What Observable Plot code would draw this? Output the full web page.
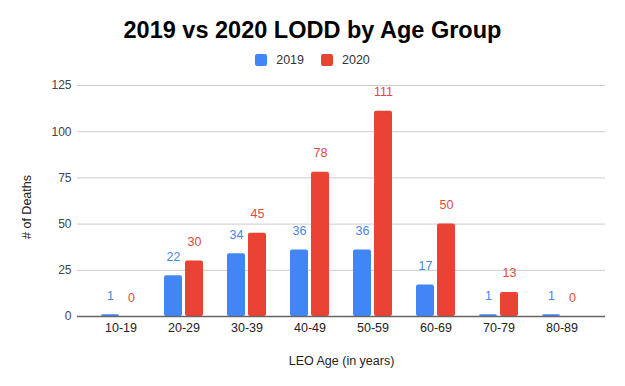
<!DOCTYPE html>
<html>
<head>
<meta charset="utf-8">
<script src="https://cdn.jsdelivr.net/npm/d3@7"></script>
<script src="https://cdn.jsdelivr.net/npm/@observablehq/plot@0.6"></script>
<style>
  html, body { margin: 0; padding: 0; background: #fff; }
  body { width: 625px; height: 386px; overflow: hidden; font-family: "Liberation Sans", Arial, sans-serif; }
  #title { height: 45px; box-sizing: border-box; padding-top: 15px; line-height: 30px; text-align: center; font-size: 23.5px; font-weight: bold; color: #000; }
  #legend { height: 30px; line-height: 30px; display: flex; justify-content: center; align-items: center; font-size: 12.5px; color: #333; }
  .sw { display: inline-block; width: 12px; height: 12px; border-radius: 2px; margin-right: 9px; }
  .item { display: flex; align-items: center; }
  .item + .item { margin-left: 17px; }
</style>
</head>
<body>
<div id="title">2019 vs 2020 LODD by Age Group</div>
<div id="legend"></div>
<div id="chart"></div>
<script>
const ages = ["10-19", "20-29", "30-39", "40-49", "50-59", "60-69", "70-79", "80-89"];
const seriesNames = ["2019", "2020"];
const deaths2019 = [1, 22, 34, 36, 36, 17, 1, 1];
const deaths2020 = [0, 30, 45, 78, 111, 50, 13, 0];
const yTicks = [0, 25, 50, 75, 100, 125];
const colors = ["#4285F4", "#EA4335"];
const labelColors = ["#4a86e8", "#e3483d"];
const xTitle = "LEO Age (in years)";
const yTitle = "# of Deaths";

const legend = document.getElementById("legend");
seriesNames.forEach((name, i) => {
  const item = document.createElement("div");
  item.className = "item";
  const sw = document.createElement("span");
  sw.className = "sw";
  sw.style.background = colors[i];
  const t = document.createElement("span");
  t.textContent = name;
  item.appendChild(sw);
  item.appendChild(t);
  legend.appendChild(item);
});

const d19 = ages.map((a, i) => ({age: a, value: deaths2019[i]}));
const d20 = ages.map((a, i) => ({age: a, value: deaths2020[i]}));

const chart = Plot.plot({
  width: 625,
  height: 311,
  marginTop: 10,
  marginBottom: 70,
  marginLeft: 77,
  marginRight: 20,
  style: {fontFamily: "'Liberation Sans', Arial, sans-serif", fontSize: "12px", background: "#fff", overflow: "visible"},
  x: {domain: ages, paddingInner: 0, paddingOuter: 0.19, label: null},
  y: {domain: [0, 125], label: null},
  marks: [
    Plot.ruleY(yTicks.filter(d => d > 0), {stroke: "#cccccc", strokeWidth: 1}),
    Plot.axisY({ticks: yTicks, tickSize: 0, tickPadding: 6, label: null, fill: "#444", fontSize: 12}),
    Plot.axisX({tickSize: 0, tickPadding: 7, label: null, fill: "#222", fontSize: 12.5}),
    Plot.barY(d19, {x: "age", y: "value", fill: colors[0], insetLeft: 12, insetRight: 33, rx: 2}),
    Plot.barY(d20, {x: "age", y: "value", fill: colors[1], insetLeft: 33, insetRight: 12, rx: 2}),
    Plot.ruleY([0], {stroke: "#666", strokeWidth: 1.5}),
    Plot.text(d19, {x: "age", y: "value", text: d => String(d.value), dx: -10.5, dy: -19, fill: labelColors[0], fontSize: 12.5, lineAnchor: "middle"}),
    Plot.text(d20, {x: "age", y: "value", text: d => String(d.value), dx: 10.5, dy: -19, fill: labelColors[1], fontSize: 12.5, lineAnchor: "middle"}),
    Plot.text([xTitle], {frameAnchor: "bottom", dy: 44, lineAnchor: "middle", textAnchor: "middle", fill: "#222", fontSize: 12.5}),
    Plot.text([yTitle], {frameAnchor: "left", rotate: -90, dx: -51, dy: 6, lineAnchor: "middle", textAnchor: "middle", fill: "#222", fontSize: 12.5})
  ]
});
document.getElementById("chart").appendChild(chart);
</script>
</body>
</html>
